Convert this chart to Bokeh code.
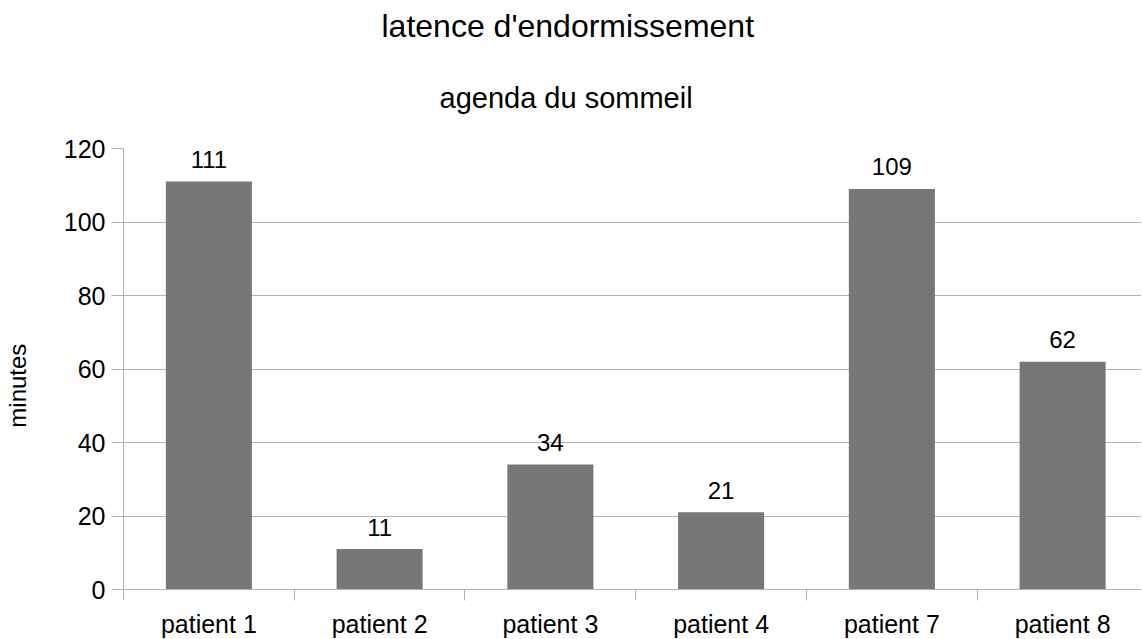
from bokeh.plotting import figure
from bokeh.models import Range1d, FixedTicker, Title, ColumnDataSource
from bokeh.core.properties import value
from bokeh.embed import file_html
from bokeh.resources import INLINE

categories = ["patient 1", "patient 2", "patient 3", "patient 4", "patient 7", "patient 8"]
latency = [111, 11, 34, 21, 109, 62]
y_ticks = [0, 20, 40, 60, 80, 100, 120]
title_text = "latence d'endormissement"
subtitle_text = "agenda du sommeil"
y_label = "minutes"

FONT = "Liberation Sans"
GRID = "#b3b3b3"
BAR = "#777777"

FW, FH = 1018, 441
TOP, LEFT, BOTTOM = 148, 116, 48

centers = [i + 0.5 for i in range(len(categories))]
src = ColumnDataSource(dict(x=centers, top=latency, lab=[str(v) for v in latency]))

p = figure(output_backend="svg", toolbar_location=None,
           frame_width=FW, frame_height=FH,
           min_border_left=LEFT, min_border_right=0,
           min_border_top=TOP, min_border_bottom=BOTTOM,
           x_range=Range1d(0, 5.962), y_range=Range1d(0, 120),
           title=None)
p.outline_line_color = None
p.background_fill_color = "white"
p.border_fill_color = "white"

p.vbar(x="x", top="top", width=0.504, bottom=0, source=src,
       fill_color=BAR, line_color=None)
p.text(x="x", y="top", text="lab", source=src, text_align="center",
       text_baseline="alphabetic", y_offset=-22,
       text_font=value(FONT), text_font_size="24px", text_color="black")

# y axis
p.yaxis.ticker = FixedTicker(ticks=y_ticks)
p.yaxis.major_tick_out = 12
p.yaxis.major_tick_in = 0
p.yaxis.minor_tick_line_color = None
p.yaxis.major_tick_line_color = GRID
p.yaxis.axis_line_color = GRID
p.yaxis.major_label_standoff = 6
p.yaxis.major_label_text_font = FONT
p.yaxis.major_label_text_font_size = "25px"
p.yaxis.major_label_text_color = "black"
p.yaxis.axis_label = y_label + "\u00a0" * 5
p.yaxis.axis_label_text_font = FONT
p.yaxis.axis_label_text_font_size = "24px"
p.yaxis.axis_label_text_font_style = "normal"
p.yaxis.axis_label_text_color = "black"
p.yaxis.axis_label_standoff = 30

# x axis
p.xaxis.ticker = FixedTicker(ticks=centers, minor_ticks=list(range(len(categories))))
p.xaxis.major_label_overrides = {c: n for c, n in zip(centers, categories)}
p.xaxis.major_tick_out = 0
p.xaxis.major_tick_in = 0
p.xaxis.minor_tick_out = 11
p.xaxis.minor_tick_in = 0
p.xaxis.minor_tick_line_color = GRID
p.xaxis.axis_line_color = GRID
p.xaxis.major_label_standoff = 9
p.xaxis.major_label_text_font = FONT
p.xaxis.major_label_text_font_size = "25px"
p.xaxis.major_label_text_color = "black"

p.xgrid.grid_line_color = None
p.ygrid.ticker = FixedTicker(ticks=y_ticks)
p.ygrid.grid_line_color = GRID

p.add_layout(Title(text=subtitle_text, align="left", offset=316, text_font=FONT,
                   text_font_size="29px", text_font_style="normal",
                   text_color="black", standoff=70), "above")
p.add_layout(Title(text=title_text, align="left", offset=258, text_font=FONT,
                   text_font_size="32px", text_font_style="normal",
                   text_color="black", standoff=1), "above")

open("out.html", "w").write(file_html(p, INLINE))
